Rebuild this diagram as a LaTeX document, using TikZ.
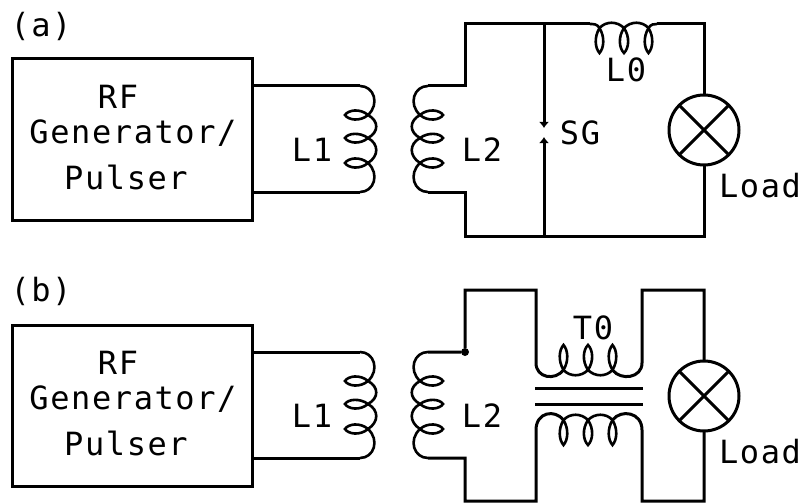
\documentclass[tikz,border=0pt]{standalone}
\usepackage{fontspec}
\setmainfont[LetterSpace=5]{DejaVu Sans Mono}
\usetikzlibrary{arrows.meta}
\tikzset{
 wire/.style={line width=3pt,line join=miter},
 genbox/.style={draw,line width=3pt,minimum width=240pt,minimum height=161pt,inner sep=0pt,outer sep=0pt},
 lamp/.style={draw,circle,line width=3pt,minimum size=70pt,inner sep=0pt,outer sep=0pt},
 lbl/.style={inner sep=0pt,font=\fontsize{32}{36}\selectfont},
 dot/.style={circle,fill=black,minimum size=8pt,inner sep=0pt},
 gaptip/.style={-{Latex[length=6pt,width=10pt]}},
 coil/.pic={
  \coordinate (-top) at (-8,-53);
  \coordinate (-bot) at (-8,53);
  \draw[line width=2.6pt] (-8,-53) .. controls (6,-53) and (12,-35) .. (0,-24)
   .. controls (-8,-31) and (-20,-29) .. (-23,-24) .. controls (-20,-19) and (-8,-17) .. (0,-24)
   .. controls (11,-18) and (11,-7) .. (0,-1)
   .. controls (-8,-7) and (-20,-6) .. (-23,-1) .. controls (-20,4) and (-8,6) .. (0,-1)
   .. controls (11,5) and (11,17) .. (0,24)
   .. controls (-8,17) and (-20,19) .. (-23,24) .. controls (-20,29) and (-8,31) .. (0,24)
   .. controls (12,35) and (6,53) .. (-8,53);
 },
 hcoil/.pic={
  \coordinate (-l) at (-24.5,0);
  \coordinate (-r) at (24.5,0);
  \draw[line width=2.6pt] (-24.5,0) .. controls (-30,9) and (-29,20) .. (-24.5,25) .. controls (-20,20) and (-19,9) .. (-24.5,0)
   .. controls (-18,-7) and (-7,-7) .. (0,0)
   .. controls (-6,9) and (-5,20) .. (0,25) .. controls (5,20) and (6,9) .. (0,0)
   .. controls (7,-7) and (18,-7) .. (24.5,0)
   .. controls (19,9) and (20,20) .. (24.5,25) .. controls (29,20) and (30,9) .. (24.5,0);
 },
}
\begin{document}
\begin{tikzpicture}[x=1pt,y=-1pt]
 \useasboundingbox (0,0) rectangle (804,503);
 % panel a
 \node[lbl] (capa) at (41,26) {(a)};
 \node[genbox] (gena) at (132,139.5) {};
 \node[lbl] (rfa) at (118,97) {RF};
 \node[lbl] (gentexta) at (133,133) {Generator/};
 \node[lbl] (pulsa) at (126,177) {Pulser};
 \pic (l1a) at (368,139) {coil};
 \pic[xscale=-1] (l2a) at (420,139) {coil};
 \pic (l0) at (624,28) {hcoil};
 \node[lamp] (loada) at (704,130) {};
 \node[lbl] (l1texta) at (312,150) {L1};
 \node[lbl] (l2texta) at (482,150) {L2};
 \node[lbl] (l0text) at (626,70) {L0};
 \node[lbl] (sgtext) at (580,133) {SG};
 \node[lbl] (loadtexta) at (760,186) {Load};
 \coordinate (tla) at (465,24);
 \coordinate (bla) at (465,236);
 \coordinate (l0left) at (590,24);
 \coordinate (l0right) at (657,24);
 \coordinate (sgt) at (544,24);
 \coordinate (sgb) at (544,236);
 \coordinate (gapt) at (544,128);
 \coordinate (gapb) at (544,137);
 \draw[wire] (gena.east |- l1a-top) -- (l1a-top);
 \draw[wire] (gena.east |- l1a-bot) -- (l1a-bot);
 \draw[wire] (l2a-top) -| (tla) -- (l0left);
 \draw[wire] (l2a-bot) -| (bla) -| (loada.south);
 \draw[line width=2.6pt] (l0left) .. controls (594,24) and (597,24) .. (l0-l);
 \draw[line width=2.6pt] (l0-r) .. controls (651,24) and (654,24) .. (l0right);
 \draw[wire] (l0right) -| (loada.north);
 \draw[wire,gaptip] (sgt) -- (gapt);
 \draw[wire,gaptip] (sgb) -- (gapb);
 \draw[wire] (loada.45) -- (loada.225);
 \draw[wire] (loada.135) -- (loada.-45);
 % panel b
 \node[lbl] (capb) at (41,291) {(b)};
 \node[genbox] (genb) at (132,405.5) {};
 \node[lbl] (rfb) at (118,363) {RF};
 \node[lbl] (gentextb) at (133,399) {Generator/};
 \node[lbl] (pulsb) at (126,443) {Pulser};
 \pic (l1b) at (368,405) {coil};
 \pic[xscale=-1] (l2b) at (420,405) {coil};
 \pic[yscale=-1] (t0u) at (588,370) {hcoil};
 \pic (t0d) at (588,420) {hcoil};
 \node[lamp] (loadb) at (704,396) {};
 \node[lbl] (l1textb) at (312,416) {L1};
 \node[lbl] (l2textb) at (482,416) {L2};
 \node[lbl] (t0text) at (593,328) {T0};
 \node[lbl] (loadtextb) at (760,452) {Load};
 \coordinate (tlb) at (465,290);
 \coordinate (blb) at (465,501);
 \coordinate (rtb) at (642,290);
 \coordinate (rbb) at (642,501);
 \coordinate (t0ul) at (536,363);
 \coordinate (t0ur) at (642,363);
 \coordinate (t0dl) at (536,430);
 \coordinate (t0dr) at (642,430);
 \coordinate (bar1l) at (535,388);
 \coordinate (bar1r) at (643,388);
 \coordinate (bar2l) at (535,404);
 \coordinate (bar2r) at (643,404);
 \node[dot] (jn) at (l2b-top -| tlb) {};
 \draw[wire] (genb.east |- l1b-top) -- (l1b-top);
 \draw[wire] (genb.east |- l1b-bot) -- (l1b-bot);
 \draw[wire] (l2b-top) -- (jn) -- (tlb) -| (t0ul) .. controls (536,378) and (555,381) .. (t0u-l);
 \draw[wire] (l2b-bot) -| (blb) -| (t0dl) .. controls (536,412) and (555,409) .. (t0d-l);
 \draw[wire] (t0u-r) .. controls (621,381) and (642,378) .. (t0ur) -- (rtb) -| (loadb.north);
 \draw[wire] (t0d-r) .. controls (621,409) and (642,412) .. (t0dr) -- (rbb) -| (loadb.south);
 \draw[wire] (bar1l) -- (bar1r);
 \draw[wire] (bar2l) -- (bar2r);
 \draw[wire] (loadb.45) -- (loadb.225);
 \draw[wire] (loadb.135) -- (loadb.-45);
\end{tikzpicture}
\end{document}
